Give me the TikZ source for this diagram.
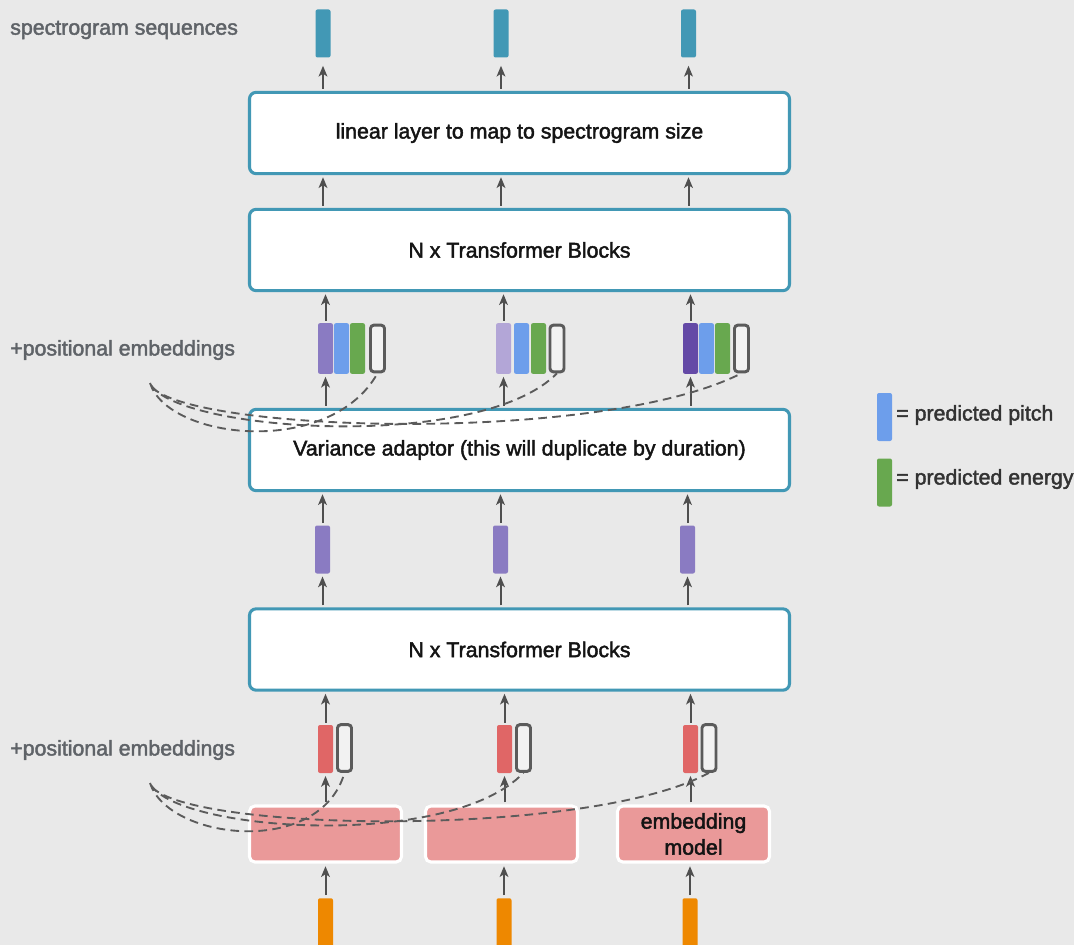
\documentclass[tikz,border=0pt]{standalone}
\usepackage{fontspec}
\setmainfont{Liberation Sans}
\newfontfamily\medfont[FakeBold=2]{Liberation Sans}
\usetikzlibrary{arrows.meta}
\definecolor{bgc}{HTML}{E9E9E9}
\definecolor{teal}{HTML}{4298B5}
\definecolor{purA}{HTML}{8A7BC2}
\definecolor{purB}{HTML}{B3A6D7}
\definecolor{purC}{HTML}{6449A6}
\definecolor{pitch}{HTML}{6D9EEB}
\definecolor{energy}{HTML}{68A84F}
\definecolor{outl}{HTML}{5B5B5B}
\definecolor{redbar}{HTML}{E06666}
\definecolor{embfill}{HTML}{EA9999}
\definecolor{orng}{HTML}{EE8800}
\definecolor{arrc}{HTML}{4F4F4F}
\definecolor{labc}{HTML}{5F6368}
\tikzset{
  bar/.style={draw=none, fill=#1, minimum width=11.25pt, minimum height=36pt, inner sep=0pt, rounded corners=1.5pt},
  hollow/.style={draw=outl, line width=2.2pt, fill=bgc!60!white, minimum width=10.5pt, minimum height=35pt, inner sep=0pt, rounded corners=2.5pt},
  bigbox/.style={draw=teal, line width=2.3pt, fill=white, rounded corners=5pt, minimum width=405pt, minimum height=61pt, inner sep=0pt, font=\medfont\fontsize{16}{18}\selectfont, text=black!92},
  embbox/.style={draw=white, line width=2.3pt, fill=embfill, rounded corners=4pt, minimum width=114pt, minimum height=42pt, inner sep=0pt, align=center, font=\medfont\fontsize{16}{19.5}\selectfont, text=black!92},
  arr/.style={draw=arrc, line width=1.5pt, -{Stealth[length=8pt,width=6.5pt,inset=2pt]}},
  dsh/.style={draw=outl, line width=1.4pt, dash pattern=on 6.5pt off 4pt},
  lab/.style={anchor=west, text=labc, inner sep=0pt, font=\medfont\fontsize{16}{18}\selectfont},
  leg/.style={anchor=west, text=black!80, inner sep=0pt, font=\medfont\fontsize{16}{18}\selectfont}
}
\begin{document}
\begin{tikzpicture}[x=0.75pt, y=-0.75pt]
\fill[bgc] (0,0) rectangle (1074,945);
\useasboundingbox (0,0) rectangle (1074,945);

% side labels
\node[lab] (lspec) at (10,30) {spectrogram sequences};
\node[lab] (lpos1) at (10,350) {+positional embeddings};
\node[lab] (lpos2) at (10,750) {+positional embeddings};

% main blocks
\node[bigbox] (lin) at (519.5,133) {linear layer to map to spectrogram size};
\node[bigbox] (tfa) at (519.5,250) {N x Transformer Blocks};
\node[bigbox] (var) at (519.5,450) {Variance adaptor (this will duplicate by duration)};
\node[bigbox] (tfb) at (519.5,649.5) {N x Transformer Blocks};

% output spectrogram frames
\node[bar=teal] (s1) at (323,33.5) {};
\node[bar=teal] (s2) at (501,33.5) {};
\node[bar=teal] (s3) at (688.5,33.5) {};

% variance-adapted stacks: duration, pitch, energy, position
\node[bar=purA, minimum height=38pt] (d1) at (325.5,348.5) {};
\node[bar=pitch, minimum height=38pt] (p1) at (341.5,348.5) {};
\node[bar=energy, minimum height=38pt] (e1) at (357.5,348.5) {};
\node[hollow] (o1) at (377.5,348.5) {};
\node[bar=purB, minimum height=38pt] (d2) at (503.5,348.5) {};
\node[bar=pitch, minimum height=38pt] (p2) at (521.5,348.5) {};
\node[bar=energy, minimum height=38pt] (e2) at (538.5,348.5) {};
\node[hollow] (o2) at (557,348.5) {};
\node[bar=purC, minimum height=38pt] (d3) at (690.5,348.5) {};
\node[bar=pitch, minimum height=38pt] (p3) at (706.5,348.5) {};
\node[bar=energy, minimum height=38pt] (e3) at (722.5,348.5) {};
\node[hollow] (o3) at (741.5,348.5) {};

% encoder outputs
\node[bar=purA] (m1) at (322.5,549.5) {};
\node[bar=purA] (m2) at (500.5,549.5) {};
\node[bar=purA] (m3) at (687.5,549.5) {};

% embedded tokens with positions
\node[bar=redbar] (r1) at (325.5,749) {};
\node[hollow] (q1) at (344.5,748) {};
\node[bar=redbar] (r2) at (504.5,749) {};
\node[hollow] (q2) at (523.5,748) {};
\node[bar=redbar] (r3) at (690.5,749) {};
\node[hollow] (q3) at (709,748) {};

% embedding models
\node[embbox] (em1) at (325.5,834) {};
\node[embbox] (em2) at (501.5,834) {};
\node[embbox] (em3) at (693.5,834) {embedding\\model};

% input tokens
\node[bar=orng, minimum height=40pt, anchor=north] (t1) at (325.5,898) {};
\node[bar=orng, minimum height=40pt, anchor=north] (t2) at (504,898) {};
\node[bar=orng, minimum height=40pt, anchor=north] (t3) at (690,898) {};

% legend
\node[bar=pitch] (lgp) at (884.5,417) {};
\node[leg] (lgpt) at (896,415) {= predicted pitch};
\node[bar=energy] (lge) at (884.5,482.5) {};
\node[leg] (lget) at (896,479) {= predicted energy};

% arrows
\foreach \s in {1,2,3} {
  \draw[arr] (s\s.south |- lin.north) ++(0,-2) -- ([yshift=-6pt]s\s.south);
  \draw[arr] (s\s.south |- tfa.north) ++(0,-2) -- ([yshift=-1.5pt]s\s.south |- lin.south);
}
\foreach \s in {1,2,3} {
  \draw[arr] (d\s.north) ++(0,-2) -- ([yshift=-1.5pt]d\s.north |- tfa.south);
  \draw[arr] (d\s.south |- var.north) ++(0,-2) -- ([yshift=-2pt]d\s.south);
  \draw[arr] (m\s.north) ++(0,-2) -- ([yshift=-1.5pt]m\s.north |- var.south);
  \draw[arr] (m\s.south |- tfb.north) ++(0,-2) -- ([yshift=-2pt]m\s.south);
  \draw[arr] (r\s.north) ++(0,-2) -- ([yshift=-1.5pt]r\s.north |- tfb.south);
  \draw[arr] (r\s.south |- em\s.north) ++(0,-2) -- ([yshift=-2pt]r\s.south);
  \draw[arr] (t\s.north) ++(0,-3) -- ([yshift=-2pt]t\s.north |- em\s.south);
}

% positional embedding links (decoder side)
\coordinate (ua) at (150,383);
\coordinate (ub) at (151,385);
\coordinate (uc) at (152,387);
\draw[dsh] (ua) .. controls (168,440) and (330,458) .. (o1.south);
\draw[dsh] (ub) .. controls (180,432) and (480,452) .. (o2.south);
\draw[dsh] (uc) .. controls (192,432) and (600,445) .. (o3.south);

% positional embedding links (encoder side)
\coordinate (la) at (150,783);
\coordinate (lb) at (151,785);
\coordinate (lc) at (152,787);
\draw[dsh] (la) .. controls (168,840) and (320,858) .. (q1.south);
\draw[dsh] (lb) .. controls (180,832) and (450,850) .. (q2.south);
\draw[dsh] (lc) .. controls (192,832) and (590,838) .. (q3.south);
\end{tikzpicture}
\end{document}
